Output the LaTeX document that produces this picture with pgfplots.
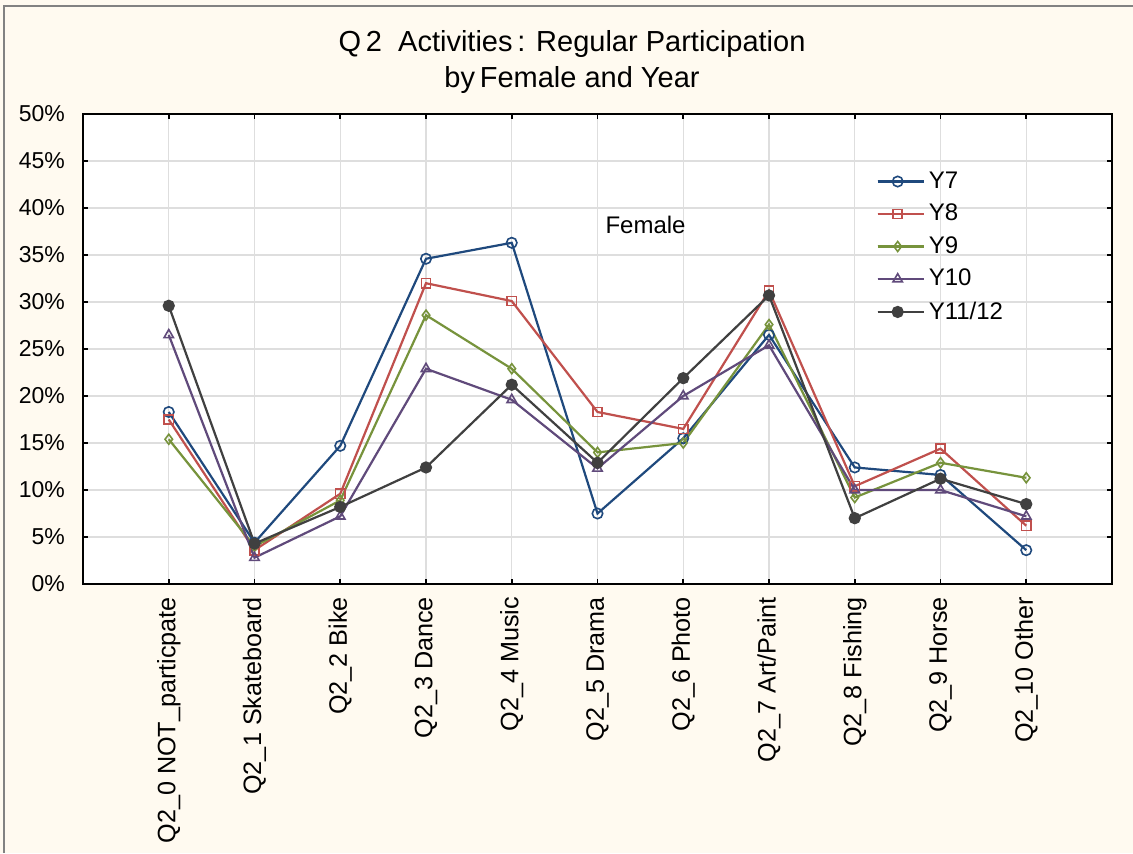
\documentclass[border=0pt]{standalone}
\usepackage{pgfplots}
\usepackage{pgfplotstable}
\pgfplotsset{compat=1.18}
\usepackage{fontspec}
\setmainfont{Liberation Sans}
\definecolor{bgc}{RGB}{255,250,240}
\definecolor{cYa}{RGB}{31,73,125}
\definecolor{cYb}{RGB}{192,80,77}
\definecolor{cYc}{RGB}{119,147,60}
\definecolor{cYd}{RGB}{96,74,123}
\definecolor{cYe}{RGB}{64,64,64}
\definecolor{gridc}{RGB}{222,222,222}
\definecolor{framec}{RGB}{130,130,130}

\pgfplotstableread{
x  Y7   Y8   Y9   Y10  Y11
0  18.3 17.5 15.4 26.5 29.6
1  4.4  3.6  4.0  2.8  4.3
2  14.7 9.6  8.9  7.2  8.2
3  34.6 32.0 28.6 22.9 12.4
4  36.3 30.1 22.9 19.6 21.2
5  7.5  18.3 14.0 12.3 12.9
6  15.5 16.5 15.0 20.0 21.9
7  26.5 31.2 27.6 25.4 30.7
8  12.4 10.4 9.2  10.0 7.0
9  11.6 14.4 12.9 10.0 11.2
10 3.6  6.2  11.3 7.2  8.5
}\datatab

\begin{document}
\begin{tikzpicture}[x=1pt,y=1pt]
\fill[bgc] (0,0) rectangle (566.5,426.5);
\draw[framec, line width=1pt] (2,0) -- (2,423.5) -- (566.5,423.5);
\node[font=\fontsize{14.5}{18}\selectfont, align=center] at (286,395.5) {Q\,2\ \ Activities\,: Regular Participation\\by\,Female and Year};
\begin{axis}[
  at={(41.5pt,134.5pt)}, anchor=south west,
  scale only axis, width=514.5pt, height=235pt,
  xmin=-1, xmax=11, ymin=0, ymax=50,
  axis background/.style={fill=white},
  xtick={0,...,10},
  xticklabels={Q2\_0 NOT\_particpate, Q2\_1 Skateboard, Q2\_2 Bike, Q2\_3 Dance, Q2\_4 Music, Q2\_5 Drama, Q2\_6 Photo, Q2\_7 Art/Paint, Q2\_8 Fishing, Q2\_9 Horse, Q2\_10 Other},
  ytick={0,5,...,50},
  yticklabels={0\%,5\%,10\%,15\%,20\%,25\%,30\%,35\%,40\%,45\%,50\%},
  xticklabel style={rotate=90, anchor=east, font=\fontsize{12.6}{14}\selectfont},
  yticklabel style={font=\fontsize{11.5}{14}\selectfont},
  xticklabel shift=3pt,
  yticklabel shift=5.5pt,
  tick align=inside, tick pos=both,
  major tick length=2.5pt,
  every tick/.style={black, line width=0.8pt},
  axis line style={line width=1.4pt},
  grid=major,
  major grid style={gridc, line width=0.6pt},
  legend style={at={(rel axis cs:0.765,0.895)}, anchor=north west, draw=none, fill=none,
     font=\fontsize{12}{14}\selectfont, row sep=2.4pt, cells={anchor=west}},
  legend image code/.code={\draw[mark repeat=2,mark phase=2] plot coordinates {(0pt,0pt) (10pt,0pt) (20pt,0pt)};\path (0pt,0pt) -- (23pt,0pt);},
  every axis plot/.append style={line width=1.1pt, mark options={solid, fill=white, line width=0.8pt}},
]
\addplot[cYa, mark=o, mark size=2.6pt] table[x=x,y=Y7] {\datatab};
\addlegendentry{Y7}
\addplot[cYb, mark=square, mark size=2.3pt] table[x=x,y=Y8] {\datatab};
\addlegendentry{Y8}
\addplot[cYc, mark=diamond, mark size=2.5pt] table[x=x,y=Y9] {\datatab};
\addlegendentry{Y9}
\addplot[cYd, mark=triangle, mark size=2.7pt] table[x=x,y=Y10] {\datatab};
\addlegendentry{Y10}
\addplot[cYe, mark=*, mark size=2.5pt, mark options={fill=cYe}] table[x=x,y=Y11] {\datatab};
\addlegendentry{Y11/12}
\node[font=\fontsize{12}{14}\selectfont] at (axis cs:5.56,38.2) {Female};
\end{axis}
\pgfresetboundingbox
\path (0,0) rectangle (566.5,426.5);
\end{tikzpicture}
\end{document}
